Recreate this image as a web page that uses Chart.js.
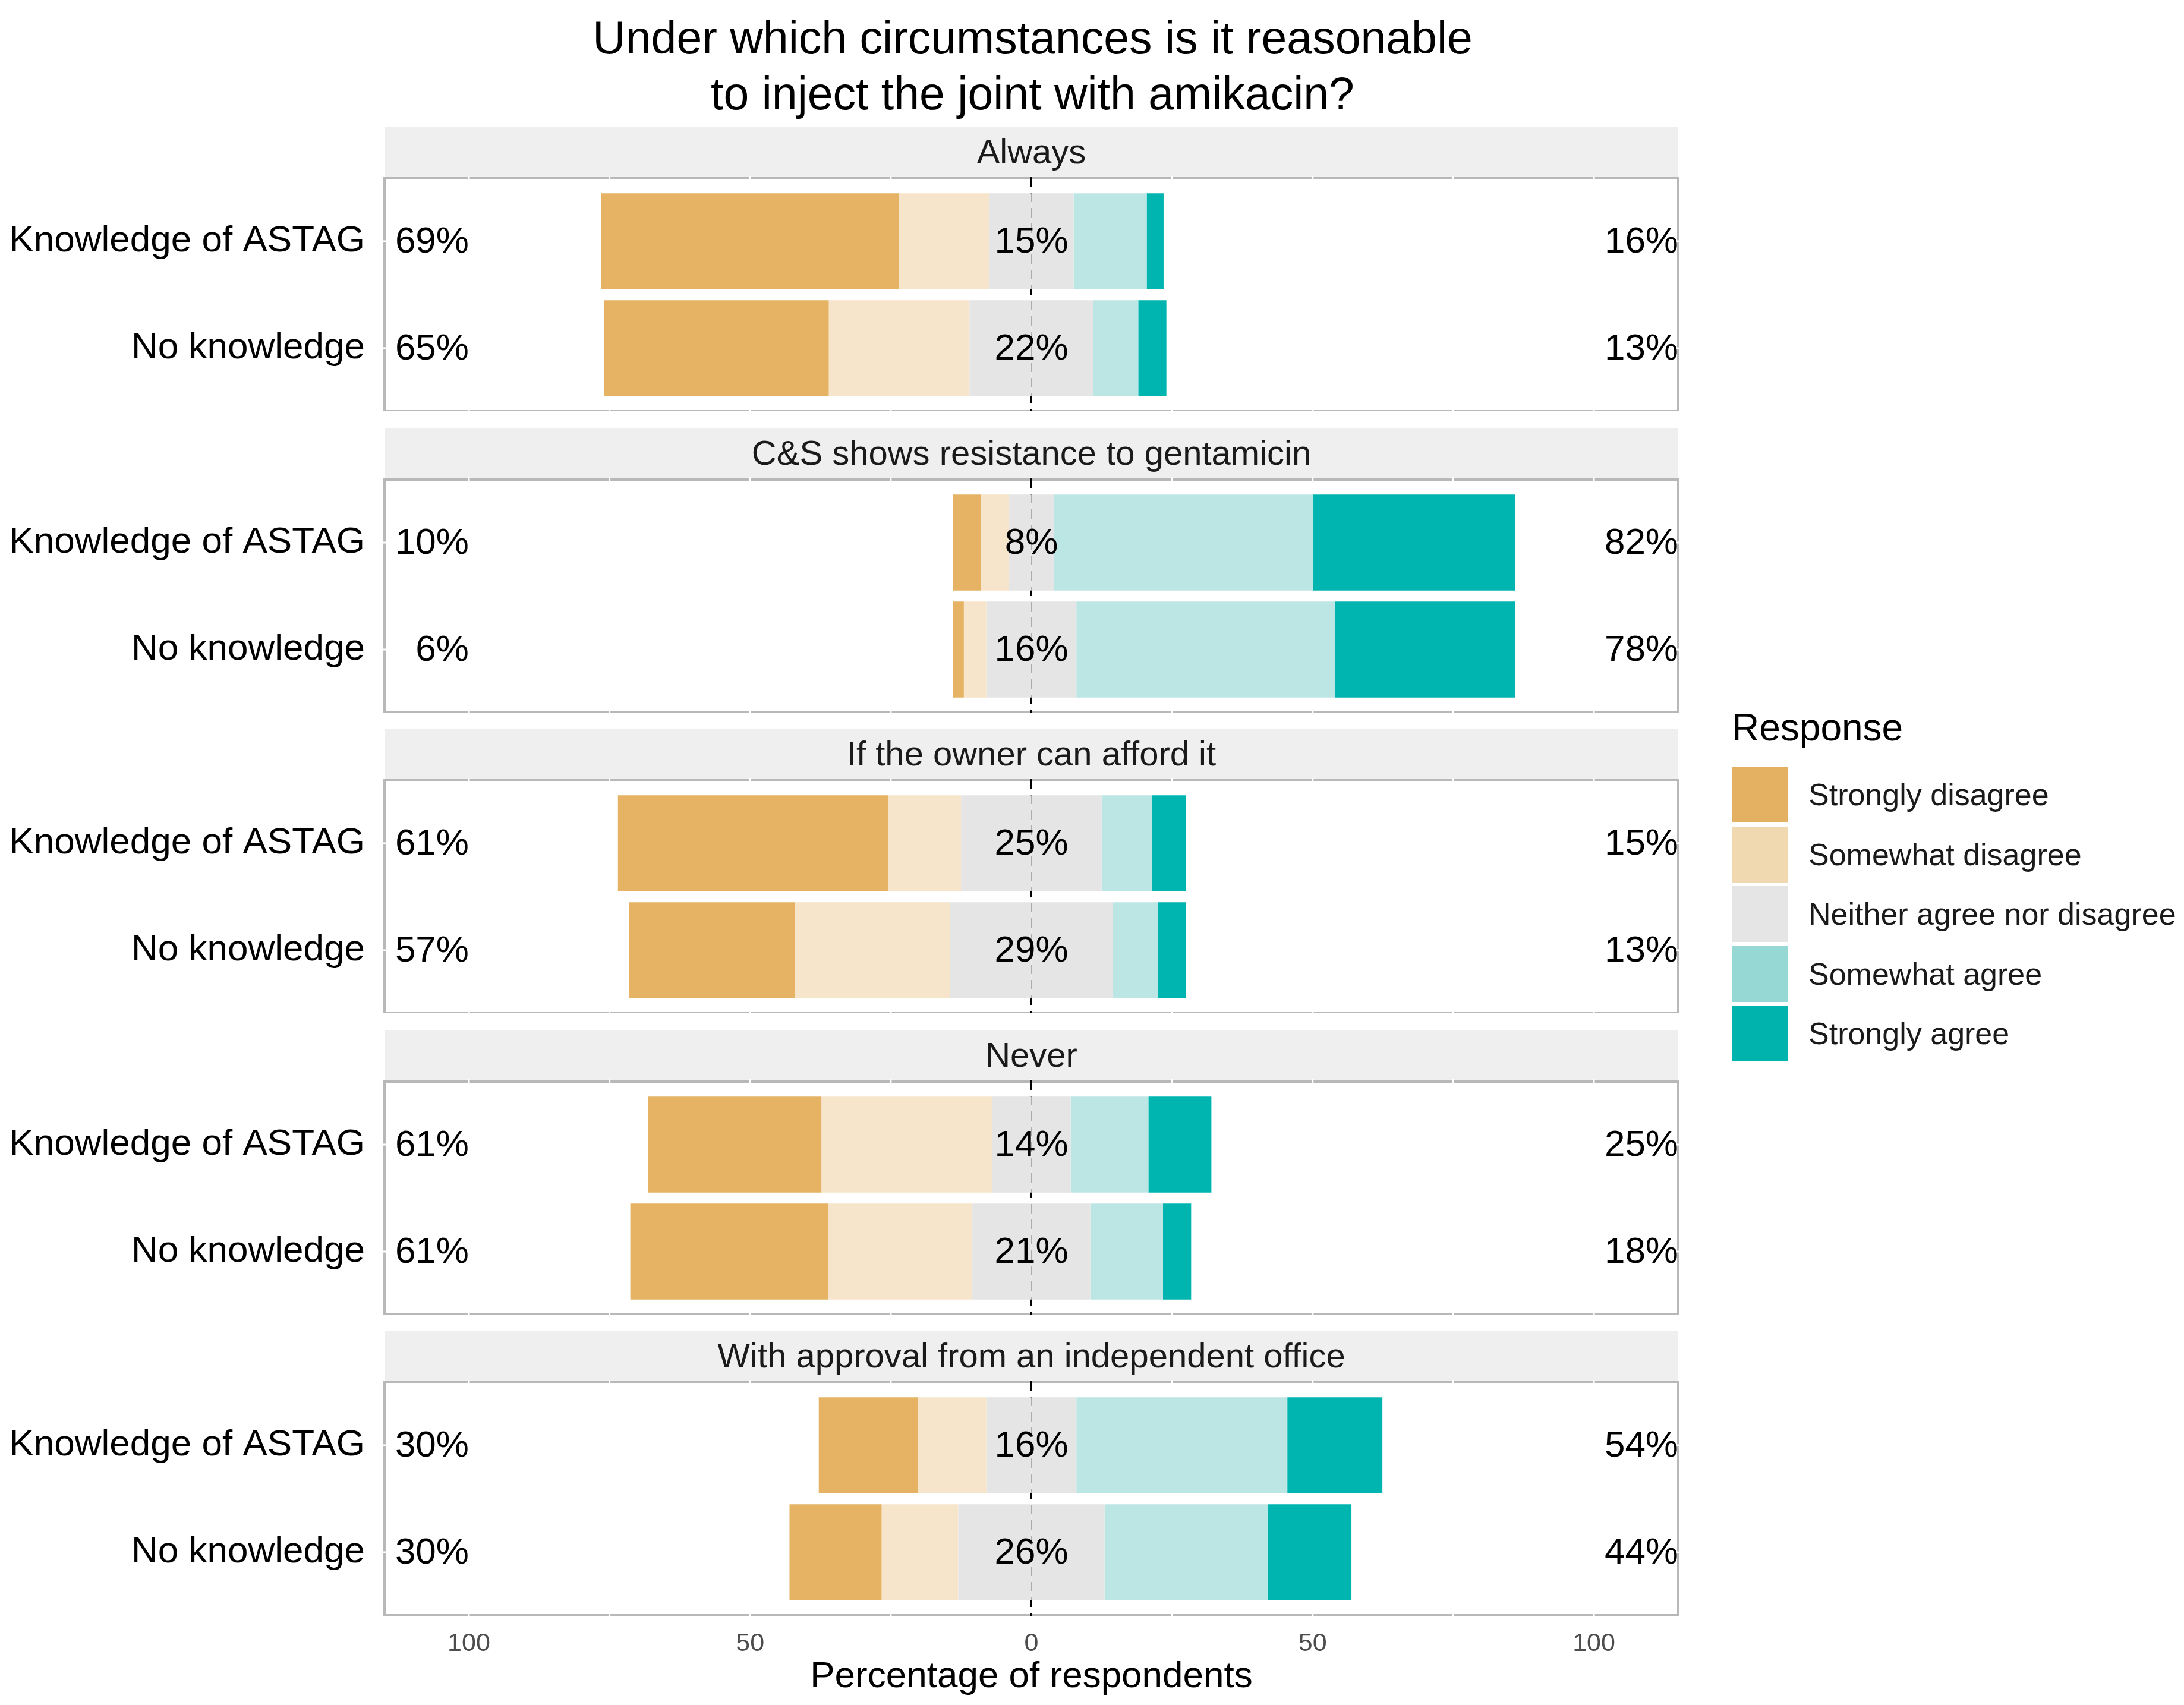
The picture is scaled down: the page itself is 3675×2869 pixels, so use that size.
<!DOCTYPE html>
<html>
<head>
<meta charset="utf-8">
<title>Amikacin joint injection - survey responses</title>
<script src="https://cdn.jsdelivr.net/npm/chart.js@4.4.1/dist/chart.umd.min.js"></script>
<style>
  body { margin: 0; background: #fff; width: 3675px; height: 2869px; overflow: hidden; position: relative;
         font-family: "Liberation Sans", Arial, sans-serif; color: #000; }
  #title { position: absolute; left: 0; top: 16px; width: 3475px; text-align: center; font-size: 77px; line-height: 94px; }
  .panel { position: absolute; left: 0; width: 2840px; }
  #legend { position: absolute; left: 2914px; top: 1186px; }
  #legend .head { font-size: 64px; line-height: 76px; height: 101px; }
  #legend .row { display: flex; align-items: center; height: 100.5px; }
  #legend .key { width: 94px; height: 94px; margin-right: 35px; }
  #legend .txt { font-size: 52px; color: #1a1a1a; }
</style>
</head>
<body>
<div id="title">Under which circumstances is it reasonable<br>to inject the joint with amikacin?</div>
<div id="panels"></div>
<div id="legend"><div class="head">Response</div></div>

<script>
// ---- data (percent of respondents) ----
const facets = ['Always', 'C&S shows resistance to gentamicin', 'If the owner can afford it',
                'Never', 'With approval from an independent office'];
const groups = ['Knowledge of ASTAG', 'No knowledge'];
const responses = ['Strongly disagree', 'Somewhat disagree', 'Neither agree nor disagree',
                   'Somewhat agree', 'Strongly agree'];

// one pair per facet: [Knowledge of ASTAG, No knowledge]
const stronglyDisagree = [[53, 40], [5, 2], [48, 29.5], [30.8, 35.2], [17.6, 16.4]];
const somewhatDisagree = [[16, 25], [5, 4], [13, 27.5], [30.3, 25.6], [12.2, 13.6]];
const neutral          = [[15, 22], [8, 16], [25, 29], [14, 21], [16, 26]];
const somewhatAgree    = [[13, 8], [46, 46], [9, 8], [13.8, 12.9], [37.5, 29]];
const stronglyAgree    = [[3, 5], [36, 32], [6, 5], [11.2, 5], [16.9, 14.9]];

const xTicks = [-100, -50, 0, 50, 100];

const barColors = ['#E5B363', '#F6E5CB', '#E5E5E5', '#BCE6E4', '#00B5AF'];
const keyColors = ['#E4B162', '#F0D9B1', '#E5E5E5', '#96D8D4', '#00B3AD'];

// ---- layout (px) ----
const STRIP_H = 86, PANEL_H = 392, PERIOD = 506.5, FIRST_TOP = 214, INSET = 16;
const PANEL_LEFT = 647, PANEL_RIGHT = 2824, CANVAS_W = 2840, PAGE_H = 2869;
const FONT = '"Liberation Sans", Arial, sans-serif';

Chart.defaults.font.family = FONT;

// strip, border, zero line and % labels for one facet
function facetPlugin(f) {
  return {
    id: 'facet' + f,
    beforeDraw(chart) {
      const {ctx, chartArea: a} = chart;
      ctx.save();
      ctx.fillStyle = '#EFEFEF';
      ctx.fillRect(a.left, a.top - INSET - STRIP_H, a.right - a.left, STRIP_H);
      ctx.fillStyle = '#1A1A1A';
      ctx.font = '58px ' + FONT;
      ctx.textAlign = 'center';
      ctx.textBaseline = 'middle';
      ctx.fillText(facets[f], (a.left + a.right) / 2, a.top - INSET - STRIP_H / 2 + 2);
      ctx.restore();
    },
    beforeDatasetsDraw(chart) {
      const {ctx, chartArea: a, scales} = chart;
      const top = a.top - INSET, bottom = a.bottom + INSET;
      ctx.save();
      ctx.strokeStyle = '#B8B8B8';
      ctx.lineWidth = 4;
      ctx.strokeRect(a.left, top, a.right - a.left, bottom - top);
      // white grid lines cut through the border
      ctx.strokeStyle = '#FFFFFF';
      ctx.lineWidth = 3;
      for (let v = -100; v <= 100; v += 25) {
        const x = scales.x.getPixelForValue(v);
        ctx.beginPath();
        ctx.moveTo(x, top - 4); ctx.lineTo(x, top + 4);
        ctx.moveTo(x, bottom - 4); ctx.lineTo(x, bottom + 4);
        ctx.stroke();
      }
      groups.forEach((g, i) => {
        const y = scales.y.getPixelForValue(i);
        ctx.beginPath();
        ctx.moveTo(a.left - 4, y); ctx.lineTo(a.left + 4, y);
        ctx.moveTo(a.right - 4, y); ctx.lineTo(a.right + 4, y);
        ctx.stroke();
      });
      // dashed line at 0
      const x0 = scales.x.getPixelForValue(0);
      ctx.strokeStyle = '#000';
      ctx.lineWidth = 3;
      ctx.setLineDash([16, 10]);
      ctx.beginPath();
      ctx.moveTo(x0, top - 2); ctx.lineTo(x0, bottom + 2);
      ctx.stroke();
      ctx.restore();
    },
    afterDatasetsDraw(chart) {
      const {ctx, scales} = chart;
      ctx.save();
      ctx.fillStyle = '#000';
      ctx.font = '62px ' + FONT;
      ctx.textBaseline = 'middle';
      groups.forEach((g, i) => {
        const y = scales.y.getPixelForValue(i) + 2;
        const left = Math.round(stronglyDisagree[f][i] + somewhatDisagree[f][i]);
        const mid = Math.round(neutral[f][i]);
        const right = Math.round(somewhatAgree[f][i] + stronglyAgree[f][i]);
        ctx.textAlign = 'right';
        ctx.fillText(left + '%', scales.x.getPixelForValue(-100), y);
        ctx.textAlign = 'center';
        ctx.fillText(mid + '%', scales.x.getPixelForValue(0), y);
        ctx.textAlign = 'right';
        ctx.fillText(right + '%', scales.x.getPixelForValue(115), y);
      });
      ctx.restore();
    }
  };
}

function createFacet(f) {
  const last = f === facets.length - 1;
  const top = Math.round(FIRST_TOP + f * PERIOD);
  const h = last ? PAGE_H - top : STRIP_H + PANEL_H;

  const box = document.createElement('div');
  box.className = 'panel';
  box.style.top = top + 'px';
  box.style.height = h + 'px';
  const canvas = document.createElement('canvas');
  box.appendChild(canvas);
  document.getElementById('panels').appendChild(box);

  const bar = (label, data, color) => ({
    label: label, data: data, backgroundColor: color, borderWidth: 0,
    barPercentage: 0.896, categoryPercentage: 1
  });

  new Chart(canvas, {
    type: 'bar',
    data: {
      labels: groups,
      // negatives stack outward from 0 in dataset order
      datasets: [
        bar(responses[2], neutral[f].map(v => -v / 2), barColors[2]),
        bar(responses[1], somewhatDisagree[f].map(v => -v), barColors[1]),
        bar(responses[0], stronglyDisagree[f].map(v => -v), barColors[0]),
        bar(responses[2], neutral[f].map(v => v / 2), barColors[2]),
        bar(responses[3], somewhatAgree[f], barColors[3]),
        bar(responses[4], stronglyAgree[f], barColors[4])
      ]
    },
    options: {
      indexAxis: 'y',
      responsive: true,
      maintainAspectRatio: false,
      animation: false,
      layout: {
        autoPadding: false,
        padding: { top: STRIP_H + INSET, bottom: last ? 10 : INSET, left: 0, right: CANVAS_W - PANEL_RIGHT }
      },
      scales: {
        x: {
          type: 'linear',
          stacked: true,
          min: -115,
          max: 115,
          display: true,
          grid: { display: false, drawTicks: false },
          border: { display: false },
          afterBuildTicks: s => { s.ticks = xTicks.map(v => ({ value: v })); },
          afterFit: s => { s.height = last ? 157 : 0; },   // only the bottom facet shows the axis
          ticks: {
            display: last,
            padding: 38,
            color: '#4D4D4D',
            font: { size: 43 },
            callback: v => Math.abs(v)
          },
          title: {
            display: last,
            text: 'Percentage of respondents',
            color: '#000',
            padding: 0,
            font: { size: 62 }
          }
        },
        y: {
          type: 'category',
          stacked: true,
          grid: { display: false, drawTicks: false },
          border: { display: false },
          // fixed width, and no extra room reserved for half label heights
          afterFit: s => { s.width = PANEL_LEFT; s.paddingTop = 0; s.paddingBottom = 0; },
          ticks: {
            padding: 33,
            color: '#000',
            font: { size: 62 }
          }
        }
      },
      plugins: {
        legend: { display: false },
        tooltip: { enabled: false }
      }
    },
    plugins: [facetPlugin(f)]
  });
}

facets.forEach((name, f) => createFacet(f));

// legend
const legend = document.getElementById('legend');
responses.forEach((r, i) => {
  const row = document.createElement('div');
  row.className = 'row';
  row.innerHTML = '<div class="key" style="background:' + keyColors[i] + '"></div><span class="txt">' + r + '</span>';
  legend.appendChild(row);
});
</script>
</body>
</html>
